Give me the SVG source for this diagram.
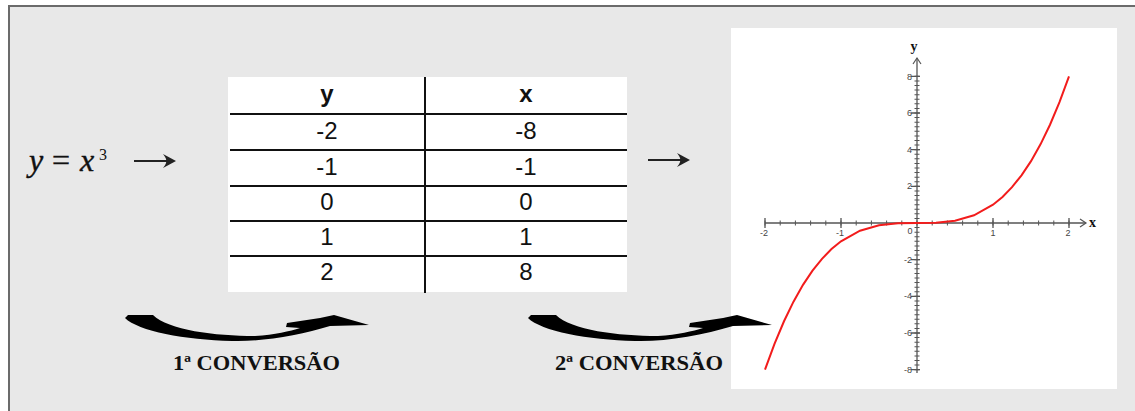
<svg xmlns="http://www.w3.org/2000/svg" width="1135" height="411" viewBox="0 0 1135 411">
<defs>
<style>
.tbl{font-family:"Liberation Sans",Arial,sans-serif;font-size:24px;fill:#111;text-anchor:middle}
.hdr{font-weight:bold}
.rule{stroke:#111;stroke-width:2}
.lbl{font-family:"Liberation Serif","Times New Roman",serif;font-weight:bold;font-size:22px;fill:#111}
.tk{font-family:"Liberation Sans",Arial,sans-serif;font-size:9px;fill:#444}
.ax{stroke:#555;fill:none}
.math{font-family:"Liberation Serif","Times New Roman",serif;fill:#111}
.it{font-style:italic}
</style>
<path id="swoosh" d="M125,318 L128,315 L153,315 C168,330 215,336 255,336 C275,335 290,331 300,328 L286,327 L287,323 L320,318 L334,315 L369,325 L330,326 C300,335 262,342 232,341 C185,340 138,331 125,318 Z" fill="#000"/>
<path id="sarrow" d="M0,0 L-13,-7 Q-9,-2 -10,0 Q-9,2 -13,7 Z" fill="#222"/>
</defs>
<rect x="0" y="0" width="1135" height="411" fill="#fff"/>
<rect x="9" y="6" width="1140" height="420" fill="#e8e8e8" stroke="#6b6b6b" stroke-width="2"/>

<g id="formula">
<text class="math it" x="29" y="171" font-size="32" stroke="#111" stroke-width="0.4">y</text>
<text class="math" x="52" y="171" font-size="32" stroke="#111" stroke-width="0.4">=</text>
<text class="math it" x="80" y="171" font-size="32" stroke="#111" stroke-width="0.4">x</text>
<text class="math" x="99" y="160" font-size="16">3</text>
</g>

<g id="table">
<rect x="228" y="77" width="399" height="215" fill="#fff"/>
<line class="rule" x1="425" y1="77" x2="425" y2="293"/>
<line class="rule" x1="230" y1="114" x2="627" y2="114"/>
<line class="rule" x1="230" y1="150" x2="627" y2="150"/>
<line class="rule" x1="230" y1="186" x2="627" y2="186"/>
<line class="rule" x1="230" y1="221" x2="627" y2="221"/>
<line class="rule" x1="230" y1="256" x2="627" y2="256"/>
<text class="tbl hdr" x="327" y="102">y</text>
<text class="tbl hdr" x="526" y="102">x</text>
<text class="tbl" x="327" y="139">-2</text><text class="tbl" x="526" y="139">-8</text>
<text class="tbl" x="327" y="175">-1</text><text class="tbl" x="526" y="175">-1</text>
<text class="tbl" x="327" y="210">0</text><text class="tbl" x="526" y="210">0</text>
<text class="tbl" x="327" y="245">1</text><text class="tbl" x="526" y="245">1</text>
<text class="tbl" x="327" y="280">2</text><text class="tbl" x="526" y="280">8</text>
</g>

<g id="graph">
<rect x="731" y="28" width="386" height="361" fill="#fff"/>
<line class="ax" x1="765" y1="223" x2="1086" y2="223" stroke-width="1.3"/>
<line class="ax" x1="917" y1="373" x2="917" y2="58" stroke-width="1.3"/>
<path class="ax" d="M1080,219 L1086,223 L1080,227 M913,64 L917,58 L921,64" stroke-width="1.2"/>
<line class="ax" x1="764.5" y1="223" x2="1070" y2="223" stroke-width="5" stroke-dasharray="1 14.2"/>
<line class="ax" x1="917" y1="75.83" x2="917" y2="371" stroke-width="5" stroke-dasharray="1 3.5833"/>
<path class="ax" stroke-width="1.3" d="M765,218 V228 M841,218 V228 M993,218 V228 M1069,218 V228 M911,76.3 H920 M911,113 H920 M911,149.7 H920 M911,186.3 H920 M911,259.7 H920 M911,296.3 H920 M911,333 H920 M911,369.7 H920"/>
<text class="tk" x="764" y="236" text-anchor="middle">-2</text>
<text class="tk" x="840" y="236" text-anchor="middle">-1</text>
<text class="tk" x="910" y="234" text-anchor="middle">0</text>
<text class="tk" x="993" y="236" text-anchor="middle">1</text>
<text class="tk" x="1068" y="236" text-anchor="middle">2</text>
<text class="tk" x="912" y="80" text-anchor="end">8</text>
<text class="tk" x="912" y="116" text-anchor="end">6</text>
<text class="tk" x="912" y="153" text-anchor="end">4</text>
<text class="tk" x="912" y="189" text-anchor="end">2</text>
<text class="tk" x="912" y="263" text-anchor="end">-2</text>
<text class="tk" x="912" y="299" text-anchor="end">-4</text>
<text class="tk" x="912" y="336" text-anchor="end">-6</text>
<text class="tk" x="912" y="373" text-anchor="end">-8</text>
<text class="math" x="1089" y="227" font-weight="bold" font-size="14">x</text>
<text class="math" x="914" y="51" font-weight="bold" font-size="14" text-anchor="middle">y</text>
<polyline fill="none" stroke="#f21c1c" stroke-width="2" points="765,369.67 774.5,343.85 784,321.25 793.5,301.67 803,284.88 812.5,270.66 822,258.81 831.5,249.1 841,241.33 860,230.73 879,225.29 898,223.29 917,223 936,222.71 955,220.71 974,215.27 993,204.67 1002.5,196.9 1012,187.19 1021.5,175.34 1031,161.13 1040.5,144.33 1050,124.75 1059.5,102.15 1069,76.33"/>
</g>

<g id="connectors">
<line x1="134" y1="161" x2="168" y2="161" stroke="#222" stroke-width="2.2"/>
<use href="#sarrow" transform="translate(176,161)"/>
<line x1="648" y1="160" x2="682" y2="160" stroke="#222" stroke-width="2.2"/>
<use href="#sarrow" transform="translate(690,160)"/>
<use href="#swoosh"/>
<use href="#swoosh" transform="translate(403,0)"/>
</g>

<g id="labels">
<text class="lbl" x="173" y="370" textLength="167" lengthAdjust="spacingAndGlyphs">1ª CONVERSÃO</text>
<text class="lbl" x="555" y="370" textLength="168" lengthAdjust="spacingAndGlyphs">2ª CONVERSÃO</text>
</g>
</svg>
